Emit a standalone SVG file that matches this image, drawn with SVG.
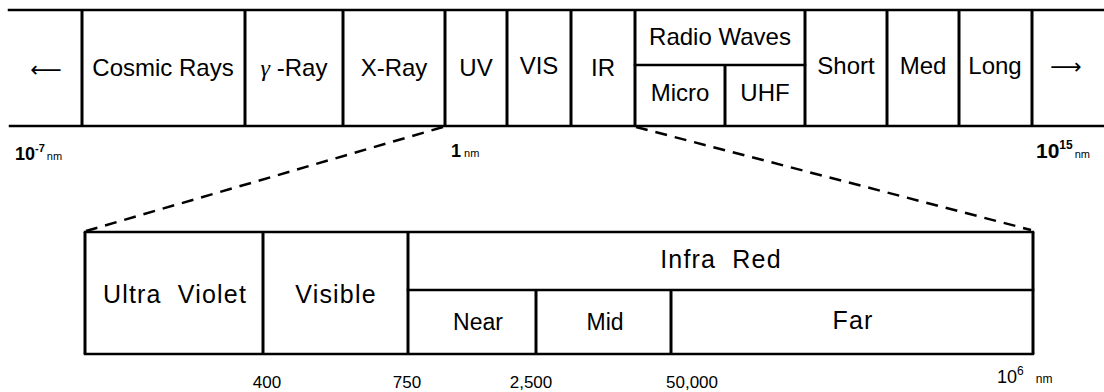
<svg xmlns="http://www.w3.org/2000/svg" width="1104" height="392" viewBox="0 0 1104 392">
<style>
.ln{stroke:#000;stroke-width:2.5;fill:none;stroke-linecap:square}
.dv{stroke:#000;stroke-width:3;fill:none}
.ds{stroke:#000;stroke-width:2.5;fill:none;stroke-dasharray:12 8}
.t{font-family:"Liberation Sans",Arial,sans-serif;font-size:24px;fill:#000;text-anchor:middle}
.b{font-family:"Liberation Sans",Arial,sans-serif;font-size:25px;fill:#000;text-anchor:middle;letter-spacing:1.2px;word-spacing:8px}
.s{font-family:"Liberation Sans",Arial,sans-serif;font-size:23px;fill:#000;text-anchor:middle}
.n{font-family:"Liberation Sans",Arial,sans-serif;font-size:17px;fill:#000;text-anchor:middle}
.lb{font-family:"Liberation Sans",Arial,sans-serif;font-size:18px;font-weight:bold;fill:#000}
.nm{font-family:"Liberation Sans",Arial,sans-serif;font-size:11px;fill:#000;font-weight:normal}
.ar{font-family:"DejaVu Sans",sans-serif;font-size:22px;fill:#000;text-anchor:middle}
</style>
<rect width="1104" height="392" fill="#fff"/>
<g id="top-band">
<line class="ln" x1="9" y1="10" x2="1104" y2="10"/>
<line class="ln" x1="10" y1="126" x2="1104" y2="126"/>
<line class="ln" x1="635" y1="65" x2="805" y2="65"/>
</g>
<g id="top-dividers">
<line class="dv" x1="82" y1="10" x2="82" y2="126"/>
<line class="dv" x1="245" y1="10" x2="245" y2="126"/>
<line class="dv" x1="343" y1="10" x2="343" y2="126"/>
<line class="dv" x1="445" y1="10" x2="445" y2="126"/>
<line class="dv" x1="507" y1="10" x2="507" y2="126"/>
<line class="dv" x1="571" y1="10" x2="571" y2="126"/>
<line class="dv" x1="635" y1="10" x2="635" y2="126"/>
<line class="dv" x1="725" y1="65" x2="725" y2="126"/>
<line class="dv" x1="805" y1="10" x2="805" y2="126"/>
<line class="dv" x1="887" y1="10" x2="887" y2="126"/>
<line class="dv" x1="959" y1="10" x2="959" y2="126"/>
<line class="dv" x1="1032" y1="10" x2="1032" y2="126"/>
</g>
<g id="n-left-arrow"><text class="ar" x="46" y="77">⟵</text></g>
<g id="n-cosmic"><text class="t" x="163" y="76">Cosmic Rays</text></g>
<g id="n-gamma"><text class="t" x="294" y="76"><tspan font-family="Liberation Serif" font-style="italic">γ</tspan> -Ray</text></g>
<g id="n-xray"><text class="t" x="394" y="76">X-Ray</text></g>
<g id="n-uv"><text class="t" x="476" y="76">UV</text></g>
<g id="n-vis"><text class="t" x="539" y="74">VIS</text></g>
<g id="n-ir"><text class="t" x="603" y="76">IR</text></g>
<g id="n-radio"><text class="t" x="720" y="45">Radio Waves</text></g>
<g id="n-micro"><text class="t" x="680" y="101">Micro</text></g>
<g id="n-uhf"><text class="t" x="765" y="101">UHF</text></g>
<g id="n-short"><text class="t" x="846" y="74">Short</text></g>
<g id="n-med"><text class="t" x="923" y="74">Med</text></g>
<g id="n-long"><text class="t" x="995" y="74">Long</text></g>
<g id="n-right-arrow"><text class="ar" x="1066" y="74">⟶</text></g>
<g id="scale-top">
<text class="lb" x="15" y="160">10<tspan dy="-8" font-size="11">-7</tspan><tspan class="nm" dy="8" dx="2">nm</tspan></text>
<text class="lb" x="451" y="157">1<tspan class="nm" dx="3">nm</tspan></text>
<text class="lb" x="1036" y="158" style="font-size:21px">10<tspan dy="-9" font-size="12">15</tspan><tspan class="nm" dy="9" dx="2">nm</tspan></text>
</g>
<g id="connectors">
<line class="ds" x1="443" y1="127" x2="86" y2="231"/>
<line class="ds" x1="636" y1="127" x2="1031" y2="230"/>
</g>
<g id="bottom-band">
<line class="ln" x1="85" y1="232" x2="1033" y2="232"/>
<line class="ln" x1="85" y1="354" x2="1033" y2="354"/>
<line class="ln" x1="408" y1="290" x2="1033" y2="290"/>
<line class="dv" x1="85" y1="232" x2="85" y2="354"/>
<line class="dv" x1="263" y1="232" x2="263" y2="354"/>
<line class="dv" x1="408" y1="232" x2="408" y2="354"/>
<line class="dv" x1="536" y1="290" x2="536" y2="354"/>
<line class="dv" x1="671" y1="290" x2="671" y2="354"/>
<line class="dv" x1="1033" y1="232" x2="1033" y2="354"/>
</g>
<g id="n-ultra-violet"><text class="b" x="175" y="303">Ultra Violet</text></g>
<g id="n-visible"><text class="b" x="336" y="303">Visible</text></g>
<g id="n-infra-red"><text class="b" x="721" y="268">Infra Red</text></g>
<g id="n-near"><text class="s" x="478" y="330">Near</text></g>
<g id="n-mid"><text class="s" x="605" y="330">Mid</text></g>
<g id="n-far"><text class="b" x="853" y="329">Far</text></g>
<g id="scale-bottom">
<text class="n" x="267" y="388">400</text>
<text class="n" x="407" y="388">750</text>
<text class="n" x="531" y="388">2,500</text>
<text class="n" x="692" y="388">50,000</text>
<text x="997" y="383" style="font-family:'Liberation Sans',Arial,sans-serif;font-size:18px">10<tspan dy="-8" font-size="12">6</tspan><tspan dy="8" dx="12" font-size="12">nm</tspan></text>
</g>
</svg>
